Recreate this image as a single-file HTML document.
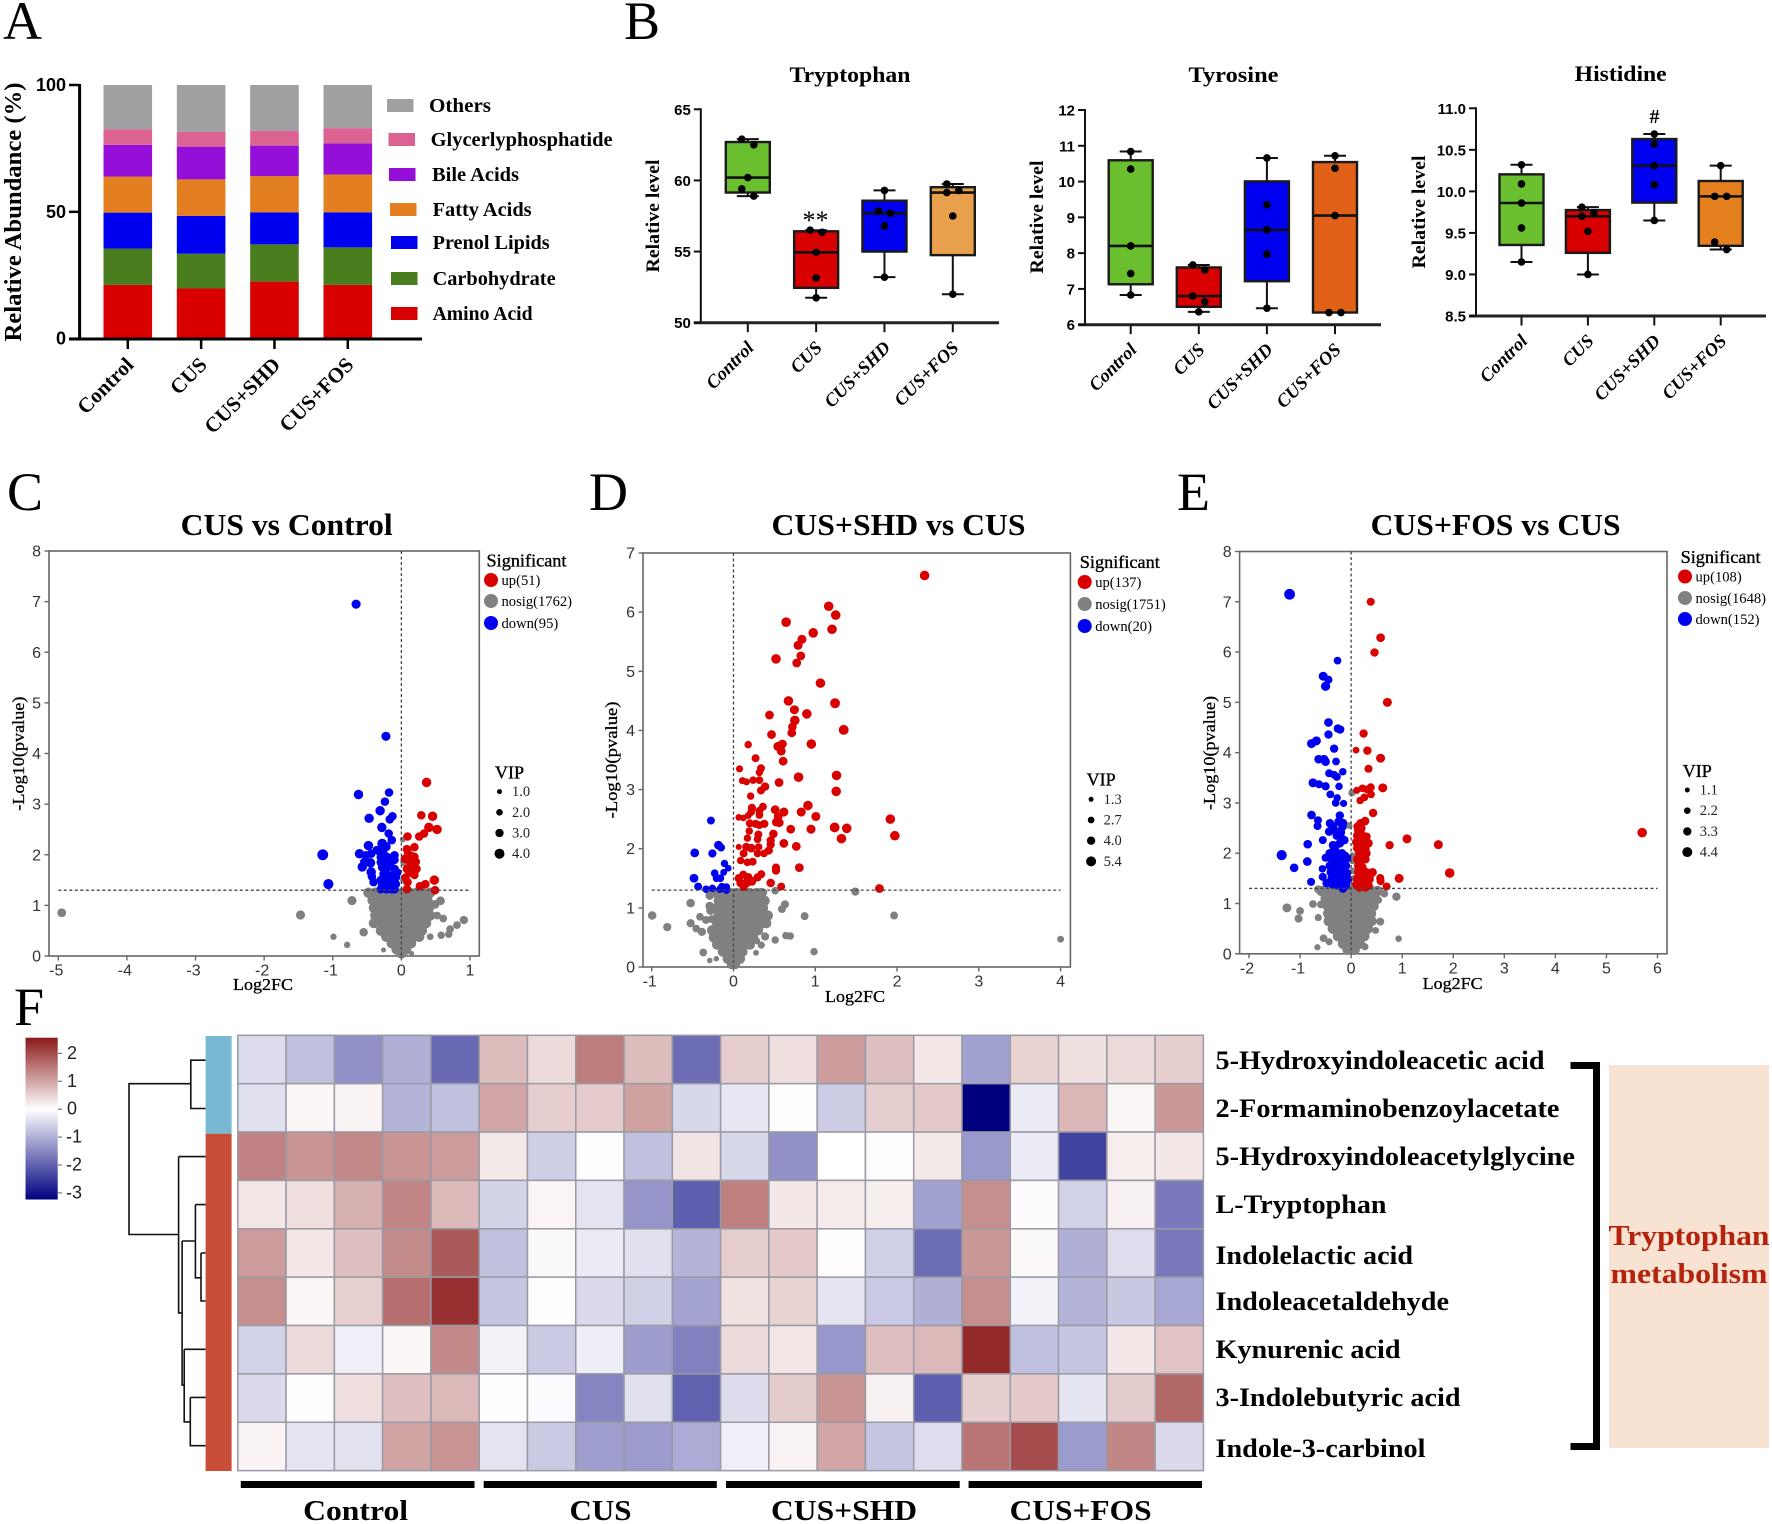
<!DOCTYPE html>
<html lang="en">
<head>
<meta charset="utf-8">
<title>Tryptophan metabolism figure</title>
<style>
html,body{margin:0;padding:0;background:#fff;}
svg{display:block;}
text{font-family:"Liberation Serif",serif;fill:#000;}
.letter{font-size:54px;}
.sans{font-family:"Liberation Sans",sans-serif;}
.bold{font-weight:bold;}
</style>
</head>
<body>
<svg id="figure" xmlns="http://www.w3.org/2000/svg" width="1772" height="1524" viewBox="0 0 1772 1524">
<defs>
<linearGradient id="cbar" x1="0" y1="0" x2="0" y2="1">
<stop offset="0" stop-color="#8b1a1a"/>
<stop offset="0.441" stop-color="#ffffff"/>
<stop offset="1" stop-color="#00007f"/>
</linearGradient>
</defs>
<rect x="0" y="0" width="1772" height="1524" fill="#fff"/>

<text class="letter" x="3" y="39">A</text>
<text class="letter" x="624" y="39">B</text>
<text class="letter" x="7" y="510">C</text>
<text class="letter" x="589" y="510">D</text>
<text class="letter" x="1177" y="510">E</text>
<text class="letter" x="14" y="1025">F</text>

<g id="panelA">
<text class="bold" font-size="24" text-anchor="middle" textLength="259" lengthAdjust="spacingAndGlyphs" transform="translate(21,212) rotate(-90)">Relative Abundance (%)</text>
</g>
<g id="panelB1">
<text class="bold" font-size="22" text-anchor="middle" x="850" y="82" textLength="121" lengthAdjust="spacingAndGlyphs">Tryptophan</text>
<text class="bold" font-size="19" text-anchor="middle" textLength="113" lengthAdjust="spacingAndGlyphs" transform="translate(659,216) rotate(-90)">Relative level</text>
<text font-size="26" text-anchor="middle" x="815.5" y="229">**</text>
</g>
<g id="panelB2">
<text class="bold" font-size="22" text-anchor="middle" x="1233.5" y="82" textLength="90" lengthAdjust="spacingAndGlyphs">Tyrosine</text>
<text class="bold" font-size="19" text-anchor="middle" textLength="113" lengthAdjust="spacingAndGlyphs" transform="translate(1043,217) rotate(-90)">Relative level</text>
</g>
<g id="panelB3">
<text class="bold" font-size="22" text-anchor="middle" x="1620.7" y="81" textLength="92" lengthAdjust="spacingAndGlyphs">Histidine</text>
<text class="bold" font-size="19" text-anchor="middle" textLength="113" lengthAdjust="spacingAndGlyphs" transform="translate(1425,212) rotate(-90)">Relative level</text>
<text class="bold" font-size="20" text-anchor="middle" x="1654.5" y="123">#</text>
</g>

<g id="panelC">
<text class="bold" font-size="31" text-anchor="middle" x="286.7" y="535" textLength="212" lengthAdjust="spacingAndGlyphs">CUS vs Control</text>
<text font-size="17" stroke="#000" stroke-width=".3" text-anchor="middle" x="263" y="990" textLength="60" lengthAdjust="spacingAndGlyphs">Log2FC</text>
<text font-size="17" stroke="#000" stroke-width=".3" text-anchor="middle" textLength="114" lengthAdjust="spacingAndGlyphs" transform="translate(24,753.6) rotate(-90)">-Log10(pvalue)</text>
</g>
<g id="panelD">
<text class="bold" font-size="31" text-anchor="middle" x="898.5" y="535" textLength="254" lengthAdjust="spacingAndGlyphs">CUS+SHD vs CUS</text>
<text font-size="17" stroke="#000" stroke-width=".3" text-anchor="middle" x="855" y="1002" textLength="60" lengthAdjust="spacingAndGlyphs">Log2FC</text>
<text font-size="17" stroke="#000" stroke-width=".3" text-anchor="middle" textLength="117" lengthAdjust="spacingAndGlyphs" transform="translate(617,760) rotate(-90)">-Log10(pvalue)</text>
</g>
<g id="panelE">
<text class="bold" font-size="31" text-anchor="middle" x="1495.6" y="535" textLength="250" lengthAdjust="spacingAndGlyphs">CUS+FOS vs CUS</text>
<text font-size="17" stroke="#000" stroke-width=".3" text-anchor="middle" x="1452.6" y="989" textLength="60" lengthAdjust="spacingAndGlyphs">Log2FC</text>
<text font-size="17" stroke="#000" stroke-width=".3" text-anchor="middle" textLength="114" lengthAdjust="spacingAndGlyphs" transform="translate(1215,753) rotate(-90)">-Log10(pvalue)</text>
</g>

<g id="panelF">
<path fill="none" stroke="#111" stroke-width="1.6" d="M205.6 1060.2H190.8V1108.5H205.6M190.8 1083.7H129V1234.5H178.6M178.6 1156.6H205.6M178.6 1156.6V1312.9H182.1M182.1 1241V1385.1H184.2M182.1 1241H195.4M195.4 1204.6H205.6M195.4 1204.6V1277.8H201M201 1253H205.6M201 1253V1301H205.6M184.2 1349.3H205.6M184.2 1349.3V1421.9H190.3M190.3 1397.4H205.6M190.3 1397.4V1445.7H205.6"/>
<rect x="205.6" y="1036" width="26" height="97.7" fill="#78b8d2"/>
<rect x="205.6" y="1133.7" width="26" height="337.3" fill="#c84e38"/>
<rect x="25.5" y="1037.7" width="32.2" height="161.8" fill="url(#cbar)"/>

<rect x="240.8" y="1481" width="233.7" height="7" fill="#000"/>
<rect x="483.7" y="1481" width="233.1" height="7" fill="#000"/>
<rect x="726" y="1481" width="233.7" height="7" fill="#000"/>
<rect x="968.6" y="1481" width="233.4" height="7" fill="#000"/>
<text class="bold" font-size="29" text-anchor="middle" x="355.6" y="1520" textLength="105" lengthAdjust="spacingAndGlyphs">Control</text>
<text class="bold" font-size="29" text-anchor="middle" x="600.5" y="1520" textLength="62" lengthAdjust="spacingAndGlyphs">CUS</text>
<text class="bold" font-size="29" text-anchor="middle" x="844" y="1520" textLength="146" lengthAdjust="spacingAndGlyphs">CUS+SHD</text>
<text class="bold" font-size="29" text-anchor="middle" x="1080.6" y="1520" textLength="142" lengthAdjust="spacingAndGlyphs">CUS+FOS</text>

<text class="bold" font-size="26" x="1215.5" y="1069" textLength="329" lengthAdjust="spacingAndGlyphs">5-Hydroxyindoleacetic acid</text>
<text class="bold" font-size="26" x="1215.5" y="1117" textLength="344" lengthAdjust="spacingAndGlyphs">2-Formaminobenzoylacetate</text>
<text class="bold" font-size="26" x="1215.5" y="1165" textLength="359.5" lengthAdjust="spacingAndGlyphs">5-Hydroxyindoleacetylglycine</text>
<text class="bold" font-size="26" x="1215.5" y="1213" textLength="171" lengthAdjust="spacingAndGlyphs">L-Tryptophan</text>
<text class="bold" font-size="26" x="1215.5" y="1264" textLength="197.5" lengthAdjust="spacingAndGlyphs">Indolelactic acid</text>
<text class="bold" font-size="26" x="1215.5" y="1310" textLength="233.5" lengthAdjust="spacingAndGlyphs">Indoleacetaldehyde</text>
<text class="bold" font-size="26" x="1215.5" y="1358" textLength="185" lengthAdjust="spacingAndGlyphs">Kynurenic acid</text>
<text class="bold" font-size="26" x="1215.5" y="1406" textLength="245" lengthAdjust="spacingAndGlyphs">3-Indolebutyric acid</text>
<text class="bold" font-size="26" x="1215.5" y="1457" textLength="210" lengthAdjust="spacingAndGlyphs">Indole-3-carbinol</text>

<path fill="none" stroke="#000" stroke-width="7" d="M1570.5 1065.5H1596.5V1446.5H1570.5"/>
<rect x="1609" y="1065" width="160" height="383" fill="#f8e3d2"/>
<text class="bold" font-size="29" text-anchor="middle" x="1689" y="1245" fill="#b5230f" style="fill:#b5230f" textLength="161" lengthAdjust="spacingAndGlyphs">Tryptophan</text>
<text class="bold" font-size="29" text-anchor="middle" x="1689" y="1283" fill="#b5230f" style="fill:#b5230f" textLength="157" lengthAdjust="spacingAndGlyphs">metabolism</text>
</g>
</svg>

<script>
/* ---------- Panel A data (percent of total) ---------- */
const barCategories = ['Control', 'CUS', 'CUS+SHD', 'CUS+FOS'];
const aminoAcid = [21.2, 19.8, 22.5, 21.2];
const carbohydrate = [14.3, 13.7, 14.7, 14.8];
const prenolLipids = [14.2, 14.9, 12.6, 13.8];
const fattyAcids = [14.2, 14.4, 14.3, 14.9];
const bileAcids = [12.5, 12.9, 12.0, 12.3];
const glycerlyphosphatide = [6.2, 5.8, 5.8, 6.0];
const others = [17.4, 18.5, 18.1, 17.0];
const barTicks = [0, 50, 100];

/* ---------- Panel B data: five replicate values per group ---------- */
const boxCategories = ['Control', 'CUS', 'CUS+SHD', 'CUS+FOS'];
const trpControl = [62.9, 62.5, 60.2, 59.4, 58.9];
const trpCus = [56.5, 56.35, 54.95, 53.15, 51.75];
const trpShd = [59.3, 57.85, 57.7, 56.8, 53.2];
const trpFos = [59.75, 59.3, 59.15, 57.5, 52.0];
const trpTicks = [50, 55, 60, 65];
const tyrControl = [10.84, 10.35, 8.2, 7.43, 6.83];
const tyrCus = [7.67, 7.53, 6.8, 6.64, 6.36];
const tyrShd = [10.66, 9.35, 8.65, 7.97, 6.46];
const tyrFos = [10.72, 10.37, 9.05, 6.34, 6.34];
const tyrTicks = [6, 7, 8, 9, 10, 11, 12];
const hisControl = [10.32, 10.09, 9.86, 9.56, 9.15];
const hisCus = [9.81, 9.74, 9.7, 9.52, 9.0];
const hisShd = [10.69, 10.57, 10.31, 10.08, 9.65];
const hisFos = [10.31, 9.94, 9.94, 9.39, 9.3];
const hisTicks = ['8.5', '9.0', '9.5', '10.0', '10.5', '11.0'];

/* ---------- Volcano data: [log2FC, -log10 p, optional VIP] ---------- */
const cXTicks = [-5, -4, -3, -2, -1, 0, 1];
const cYTicks = [0, 1, 2, 3, 4, 5, 6, 7, 8];
const cVipLegend = ['1.0', '2.0', '3.0', '4.0'];
const cCounts = ['up(51)', 'nosig(1762)', 'down(95)'];
const cUp = [[.367,3.43,3.2],[.29,2.78],[.455,2.76,3.2],[.40,2.54,3.2],[.52,2.50,3.2],[.33,2.42],[.26,2.36],[.09,2.36],[.19,2.15],[.08,2.11],[.10,2.02],[.19,1.96],[.05,1.92],[.21,1.86],[.13,1.84],[.08,1.72],[.22,1.72],[.16,1.69],[.19,1.6],[.09,1.46],[.35,1.42],[.27,1.38],[.48,1.5,3.2],[.49,1.30],[.08,1.32],[.12,1.9],[.17,1.8],[.12,1.65],[.14,1.98],[.06,1.55]];
const cDown = [[-.66,6.95,3],[-.225,4.34,3],[-.625,3.19,3.2],[-.18,3.23],[-.24,3.05],[-.31,2.87,3.2],[-.47,2.72,3.2],[-.13,2.76],[-.17,2.70],[-.285,2.54,3.2],[-.185,2.42],[-.14,2.29],[-.28,2.22,3.4],[-.48,2.18,3.2],[-.225,2.16,3.2],[-1.146,2.0,4],[-.61,2.02,3.2],[-.44,2.02],[-.10,1.99],[-.31,2.06,3.2],[-.36,2.09],[-.515,1.99],[-.45,1.84,3.2],[-.54,1.86],[-.57,1.76,3.2],[-.44,1.66,3.2],[-.43,1.57],[-.405,1.46],[-1.064,1.42,3.6],[-.3,1.95],[-.25,2.0],[-.2,1.95],[-.3,1.85],[-.24,1.85],[-.15,1.88],[-.1,1.9],[-.28,1.75],[-.22,1.72],[-.16,1.78],[-.1,1.72],[-.06,1.65],[-.26,1.62],[-.2,1.6],[-.13,1.6],[-.08,1.55],[-.3,1.5],[-.24,1.5],[-.18,1.5],[-.12,1.48],[-.08,1.42],[-.28,1.4],[-.2,1.4],[-.14,1.38],[-.3,1.32],[-.22,1.32],[-.15,1.32],[-.1,1.32]];
const cGray = [[-4.95,.855,2.8],[-1.47,.81,3],[-.72,1.095,3],[-.99,.38,1.4],[-.79,.22,1.4],[.91,.71,2.6],[.81,.61,2.2],[.71,.53,2.2],[.69,.43,2],[.58,.41,2],[.42,.38,1.6],[.61,.74,2.2],[.52,.8,2.2],[.57,1.09,2.8],[.49,1.02,2.8],[-.55,.47,2.6],[.15,.05,.6],[-.26,.12,.6],[.02,2.3,1],[.04,1.85,2.2],[.03,1.5,1.6],
[-.48,1.25],[-.38,1.25],[-.28,1.25],[-.18,1.25],[-.08,1.25],[.02,1.25],[.12,1.25],[.22,1.25],[.32,1.25],[.42,1.25],
[-.42,1.1],[-.32,1.1],[-.22,1.1],[-.12,1.1],[-.02,1.1],[.08,1.1],[.18,1.1],[.28,1.1],[.38,1.1],
[-.4,.95],[-.3,.95],[-.2,.95],[-.1,.95],[0,.95],[.1,.95],[.2,.95],[.3,.95],[.4,.95],
[-.38,.8],[-.28,.8],[-.18,.8],[-.08,.8],[.02,.8],[.12,.8],[.22,.8],[.32,.8],[.42,.8],
[-.4,.65],[-.3,.65],[-.2,.65],[-.1,.65],[0,.65],[.1,.65],[.2,.65],[.3,.65],[.36,.65],
[-.3,.5],[-.2,.5],[-.1,.5],[0,.5],[.1,.5],[.2,.5],[.3,.5],
[-.22,.38],[-.14,.38],[-.06,.38],[.02,.38],[.1,.38],[.18,.38],[.26,.38],
[-.14,.25],[-.07,.25],[0,.25],[.07,.25],[.14,.25],
[-.07,.13],[0,.13],[.07,.13],[0,.05]];

const dXTicks = [-1, 0, 1, 2, 3, 4];
const dYTicks = [0, 1, 2, 3, 4, 5, 6, 7];
const dVipLegend = ['1.3', '2.7', '4.0', '5.4'];
const dCounts = ['up(137)', 'nosig(1751)', 'down(20)'];
const dUp = [[2.337,6.62,4],[1.164,6.10,4],[1.25,5.95,4],[1.205,5.71,4],[.644,5.83,4],[.975,5.65,4],[.837,5.54,3.6],[.79,5.44,3.6],[.823,5.26,3.4],[.52,5.21,4],[.773,5.14,3.4],[1.063,4.80,4],[.672,4.50,4],[1.242,4.46,4.2],[.745,4.35,3.6],[.897,4.28,4],[.44,4.26,3.4],[.75,4.17,4],[.72,4.06,3.2],[1.348,4.01,4.2],[.713,3.96,3.4],[.465,3.93,3.4],[.598,3.77,3.4],[.952,3.77,4],[.18,3.76,2.4],[.543,3.73,3.6],[.584,3.65,3.4],[.27,3.53,2.8],[.607,3.48,3.4],[.074,3.35,2.2],[.336,3.36,2.8],[.317,3.29,2.4],[1.26,3.24,4],[.796,3.21,4],[.557,3.12,3.4],[.11,3.15,2.2],[.16,3.13,2],[.24,3.16,2.4],[.317,3.16,2.6],[.386,3.05,3.2],[1.256,2.97,4],[.336,2.985,2.8],[.21,2.89,2.4],[.91,2.73,4],[.225,2.69,3],[.36,2.71,2.8],[.51,2.66,3.4],[.616,2.62,3.6],[.828,2.62,3.6],[.317,2.64,2.8],[.216,2.62,2.6],[.317,2.57,2.6],[1.007,2.545,3.6],[.064,2.53,1.8],[.12,2.52,1.8],[.18,2.56,2],[.547,2.545,3.4],[.2,2.43,2.8],[.27,2.42,2.8],[.377,2.42,3],[.317,2.40,2.8],[.524,2.45,3.4],[.56,2.44,3.4],[1.918,2.50,4],[1.237,2.36,4.2],[1.385,2.345,4],[.948,2.33,3.6],[.70,2.33,3.4],[.193,2.30,2.4],[.304,2.24,2.8],[.488,2.25,3.2],[1.973,2.22,4],[1.32,2.17,4],[.17,2.18,2.4],[.294,2.16,2.6],[.455,2.14,3],[.455,2.07,3],[.616,2.09,3.4],[.768,2.04,3.4],[.064,2.03,1.4],[.156,2.03,3],[.216,2.01,3.4],[.308,2.03,2.4],[.432,1.97,3],[.124,1.92,2.8],[.294,1.92,2.6],[.373,1.92,2.6],[.087,1.80,2.4],[.17,1.77,2.6],[.235,1.78,2.8],[.52,1.68,3],[.52,1.63,3],[.805,1.68,3.4],[.34,1.57,2.8],[.064,1.50,3],[.12,1.56,3],[.18,1.515,3.4],[.294,1.515,3],[.087,1.42,3.2],[.156,1.42,3.6],[.225,1.447,3.4],[.455,1.42,3.2],[.584,1.36,2.8],[.124,1.355,3],[1.785,1.327,3.4]];
const dDown = [[-.276,2.476,2.8],[-.184,2.06,3.4],[-.152,2.02,2.8],[-.474,1.93,3.4],[-.258,1.92,3],[-.11,1.75,2.4],[-.064,1.67,1.8],[-.12,1.60,2],[-.23,1.585,2.6],[-.483,1.50,3.4],[-.207,1.50,2.6],[-.16,1.50,2.6],[-.432,1.36,2.8],[-.143,1.36,2.4],[-.087,1.35,2.6],[-.336,1.315,2.4],[-.258,1.33,2.4],[-.166,1.315,2.4],[-.087,1.30,2.4]];
const dGray = [[1.49,1.275,3],[4.0,.47,2],[1.964,.87,2.8],[.87,.86,2.8],[-.994,.87,3.2],[-.81,.675,3],[-.524,1.08,3.2],[-.524,.74,3],[-.41,.85,2.6],[-.455,.65,2.6],[-.386,.595,3],[-.37,.245,2.6],[-.29,1.21,3.4],[-.29,1.03,3.4],[-.28,.955,3.4],[-.336,.795,2.8],[-.267,.81,2.8],[.63,1.06,2.8],[.593,.98,2.8],[.51,1.29,2.6],[.363,1.26,3],[.985,.26,2.4],[.64,.53,2.4],[.695,.525,2.4],[.51,.457,2.4],[.386,.515,3],[.34,.37,2.2],[.276,.24,1.2],[.285,.44,2],[-.29,.11,1],[-.21,.14,1],
[-.2,1.25],[-.12,1.25],[-.04,1.25],[.04,1.25],[.12,1.25],[.2,1.25],[.28,1.25],[.34,1.25],
[-.18,1.12],[-.1,1.12],[-.02,1.12],[.06,1.12],[.14,1.12],[.22,1.12],[.3,1.12],[.38,1.12],
[-.2,1.0],[-.12,1.0],[-.04,1.0],[.04,1.0],[.12,1.0],[.2,1.0],[.28,1.0],[.36,1.0],
[-.18,.87],[-.1,.87],[-.02,.87],[.06,.87],[.14,.87],[.22,.87],[.3,.87],[.38,.87],[.42,.87],
[-.2,.74],[-.12,.74],[-.04,.74],[.04,.74],[.12,.74],[.2,.74],[.28,.74],[.36,.74],[.4,.74],
[-.26,.62],[-.18,.62],[-.1,.62],[-.02,.62],[.06,.62],[.14,.62],[.22,.62],[.3,.62],
[-.24,.5],[-.16,.5],[-.08,.5],[0,.5],[.08,.5],[.16,.5],[.24,.5],
[-.2,.38],[-.12,.38],[-.04,.38],[.04,.38],[.12,.38],[.2,.38],
[-.13,.26],[-.05,.26],[.03,.26],[.11,.26],
[-.07,.14],[.01,.14],[.08,.14],[-.02,.05],[.02,.05]];

const eXTicks = [-2, -1, 0, 1, 2, 3, 4, 5, 6];
const eYTicks = [0, 1, 2, 3, 4, 5, 6, 7, 8];
const eVipLegend = ['1.1', '2.2', '3.3', '4.4'];
const eCounts = ['up(108)', 'nosig(1648)', 'down(152)'];
const eDown = [[-1.205,7.15,4.4],[-.266,5.83,2.4],[-.547,5.52,3.2],[-.444,5.45,2.6],[-.50,5.32,3.4],[-.444,4.6,3],[-.26,4.48,2.8],[-.214,4.46,2.8],[-.444,4.36,2.8],[-.68,4.235,3.2],[-.776,4.18,3.2],[-.333,4.08,2.8],[-.636,3.87,3],[-.532,3.87,3],[-.50,3.82,3],[-.296,3.825,2.4],[-.163,3.62,2.2],[-.43,3.59,2.6],[-.333,3.56,2.4],[-.28,3.52,2.6],[-.747,3.40,3.2],[-.628,3.37,2.6],[-.50,3.33,2.8],[-.237,3.33,2.2],[-.407,3.17,2.4],[-.274,3.10,2.2],[-.303,3.0,2.4],[-.148,2.99,2],[-.776,2.76,3],[-.222,2.75,2.8],[-.65,2.655,2.6],[-.658,2.54,2.6],[-.414,2.595],[-.244,2.63],[-.355,2.53],[-.17,2.53],[-.43,2.43],[-.28,2.43],[-.555,2.26,2.6],[-.207,2.33],[-.85,2.18,3],[-.133,2.26],[-.355,2.16],[-1.36,1.963,4],[-1.116,1.71,3],[-.858,1.835,3],[-.50,1.91,2.6],[-.562,1.69,2.2],[-.555,1.53,2.6],[-.784,1.43,2.6],[-.48,1.405],
[-.42,2.0],[-.34,2.05],[-.26,2.0],[-.18,2.0],[-.12,1.95],[-.4,1.9],[-.32,1.9],[-.24,1.88],[-.16,1.85],[-.08,1.9],[-.42,1.75],[-.34,1.78],[-.26,1.75],[-.18,1.72],[-.1,1.75],[-.4,1.62],[-.32,1.62],[-.24,1.6],[-.16,1.6],[-.08,1.6],[-.38,1.5],[-.3,1.48],[-.22,1.48],[-.14,1.48],[-.06,1.48],[-.36,1.38],[-.26,1.36],[-.18,1.36],[-.1,1.36],[-.16,1.3],[-.3,2.15],[-.22,2.2],[-.28,2.35],[-.2,2.42],[-.16,2.6]];
const eUp = [[.384,7.0,2.6],[.577,6.285,3],[.458,5.99,2.8],[.71,5.0,3.2],[.244,4.38,2.8],[.096,4.05,1.8],[.318,4.04,2.8],[.577,3.89,3.2],[.34,3.68,2.6],[.62,3.30,3.2],[.384,3.31,2.6],[.222,3.29,2.4],[.11,3.25,2],[.31,3.27,2.4],[.39,3.17,2.4],[.26,3.11,2.4],[.177,3.05,2.2],[.43,2.80,2.8],[.274,2.64],[.185,2.595],[.126,2.53],[5.70,2.41,3.6],[1.094,2.286,3.2],[1.708,2.17,3.2],[.754,2.16,2.8],[1.93,1.607,3.6],[.94,1.5,3.2],[.57,1.506,2.6],[.577,1.445,2.6],[.695,1.338,2.6],[.42,1.62],
[.14,2.45],[.2,2.5],[.12,2.35],[.2,2.38],[.3,2.33],[.1,2.22],[.18,2.25],[.26,2.25],[.34,2.2],[.12,2.1],[.2,2.12],[.28,2.1],[.16,2.0],[.24,1.98],[.3,2.0],[.12,1.88],[.2,1.85],[.28,1.88],[.14,1.75],[.22,1.72],[.14,1.62],[.22,1.62],[.3,1.62],[.38,1.58],[.12,1.5],[.2,1.5],[.28,1.5],[.36,1.48],[.1,1.38],[.18,1.38],[.26,1.38],[.34,1.36],[.16,1.32],[.28,1.32]];
const eGray = [[-1.257,.914,3.2],[-1.0,.854,2.4],[-1.03,.70,2.6],[-.747,.99,2.4],[-.643,.72,2],[-.59,.98,2.4],[.887,1.136,2.8],[.65,1.197,2.4],[.57,.64,2.6],[.53,1.07,2.4],[.48,.464,1.8],[.93,.30,1.6],[-.54,.31,2.4],[-.43,.24,2],[-.66,.13,1.4],[.27,.14,2],[-.65,1.284,2.4],[.015,3.2,2],[-.04,2.55,1.8],[.03,1.95,1.8],[.03,1.85,1.8],[.03,1.65,1.8],[.06,1.5,1.8],[.05,1.35,1.8],
[-.58,1.25],[-.44,1.25],[-.3,1.25],[-.16,1.25],[-.02,1.25],[.12,1.25],[.26,1.25],[.4,1.25],[.52,1.25],
[-.5,1.1],[-.36,1.1],[-.22,1.1],[-.08,1.1],[.06,1.1],[.2,1.1],[.34,1.1],[.46,1.1],
[-.46,.95],[-.32,.95],[-.18,.95],[-.04,.95],[.1,.95],[.24,.95],[.38,.95],[.44,.95],
[-.45,.8],[-.31,.8],[-.17,.8],[-.03,.8],[.11,.8],[.25,.8],[.39,.8],
[-.44,.65],[-.3,.65],[-.16,.65],[-.02,.65],[.12,.65],[.26,.65],[.4,.65],
[-.36,.5],[-.22,.5],[-.08,.5],[.06,.5],[.2,.5],[.33,.5],
[-.26,.35],[-.12,.35],[.02,.35],[.16,.35],[.26,.35],
[-.16,.2],[-.04,.2],[.08,.2],[.17,.2],
[-.07,.08],[.03,.08],[.07,.08]];

/* ---------- Panel F data: z-scores, one array per metabolite ---------- */
const hiaa5 = [-.45,-.8,-1.4,-1.0,-1.9,.75,.4,1.45,.75,-1.85,.55,.37,1.1,.72,.27,-1.2,.5,.35,.42,.55];
const formaminobenzoylacetate = [-.4,.1,.13,-.95,-.8,1.0,.55,.58,1.05,-.5,-.3,-.03,-.65,.55,.6,-3.24,-.25,.8,.1,1.15];
const hydroxyindoleacetylglycine = [1.4,1.2,1.32,1.18,1.12,.25,-.62,-.02,-.8,.3,-.5,-1.4,0,-.02,.25,-1.3,-.25,-2.4,.2,.27];
const lTryptophan = [.28,.37,.88,1.35,.78,-.55,.12,-.35,-1.35,-2.05,1.42,.27,.22,.2,-1.2,1.25,.05,-.58,.17,-1.7];
const indolelacticAcid = [1.12,.27,.7,1.3,1.85,-.8,.08,-.25,-.4,-.95,.55,.6,.03,-.6,-1.85,1.15,.08,-1.0,-.42,-1.72];
const indoleacetaldehyde = [1.25,.1,.52,1.62,2.3,-.72,-.02,-.47,-.6,-1.17,.32,.5,-.33,-.68,-1.0,1.25,-.16,-.95,-.7,-1.12];
const kynurenicAcid = [-.58,.42,-.2,.1,1.32,-.18,-.67,-.22,-1.25,-1.6,.43,.28,-1.32,.72,.78,2.4,-.8,-.73,.27,.67];
const indolebutyricAcid = [-.47,-.02,.37,.7,.78,-.03,-.05,-1.55,-.4,-2.0,-.45,.57,1.2,.17,-2.05,.55,.6,-.32,.57,1.7];
const indoleCarbinol = [.13,-.33,-.38,1.02,1.2,-.35,-.67,-1.22,-1.27,-1.07,-.2,.15,1.0,-.72,-.43,1.55,2.0,-1.27,1.35,-.47];
const colorbarTicks = [2, 1, 0, -1, -2, -3];

/* ---------- helpers ---------- */
const NS = 'http://www.w3.org/2000/svg';
function mk(parent, tagName, attrs, txt) {
  const el = document.createElementNS(NS, tagName);
  for (const k in attrs) el.setAttribute(k, attrs[k]);
  if (txt !== undefined) el.textContent = txt;
  parent.appendChild(el);
  return el;
}
function linear(d0, d1, r0, r1) {
  return function (v) { return r0 + (v - d0) * (r1 - r0) / (d1 - d0); };
}

/* ---------- Panel A ---------- */
(function () {
  const g = document.getElementById('panelA');
  const stack = [aminoAcid, carbohydrate, prenolLipids, fattyAcids, bileAcids, glycerlyphosphatide, others];
  const stackColors = ['#d90000', '#4a7d1e', '#0000f0', '#e37f20', '#9410d8', '#dc6292', '#a0a0a2'];
  const stackNames = ['Amino Acid', 'Carbohydrate', 'Prenol Lipids', 'Fatty Acids', 'Bile Acids', 'Glycerlyphosphatide', 'Others'];
  const legendBoxX = [391, 391, 391, 390, 389, 388.5, 387];
  const legendBoxY = [307, 272, 236, 203, 168, 133, 99];
  const legendTextX = [432.6, 432.6, 432.6, 432.6, 432, 430.6, 429];
  const legendWidths = [100, 123, 117, 99, 87, 182, 62];
  const y = linear(0, 100, 338.7, 85);
  const xc = linear(0, 3, 127.8, 347.8);
  barCategories.forEach(function (cat, i) {
    let acc = 0;
    stack.forEach(function (series, s) {
      const y0 = y(acc), y1 = y(acc + series[i]);
      const r = mk(g, 'rect', { x: xc(i) - 24.3, y: y1, width: 48.6, height: y0 - y1, fill: stackColors[s] });
      
      
      acc += series[i];
    });
    const t = mk(g, 'line', { x1: xc(i), x2: xc(i), y1: 339, y2: 349, stroke: '#000', 'stroke-width': 2.5 });
    
    
    const lab = mk(g, 'text', { 'class': 'bold', 'font-size': 21, 'text-anchor': 'end', transform: 'translate(' + (xc(i) + 7) + ',366) rotate(-45)' }, cat);
    
    
  });
  const ya = mk(g, 'line', { x1: 79.6, x2: 79.6, y1: 84, y2: 340, stroke: '#000', 'stroke-width': 3 });
  
  
  const xa = mk(g, 'line', { x1: 69, x2: 422, y1: 339, y2: 339, stroke: '#000', 'stroke-width': 3 });
  
  
  barTicks.forEach(function (v) {
    const t = mk(g, 'line', { x1: 69, x2: 79.6, y1: y(v), y2: y(v), stroke: '#000', 'stroke-width': 2.5 });
    
    
    const l = mk(g, 'text', { 'class': 'sans bold', 'font-size': 18, 'text-anchor': 'end', x: 66, y: y(v) + 6 }, v);
    
    
  });
  stackNames.forEach(function (n, s) {
    const sw = mk(g, 'rect', { x: legendBoxX[s], y: legendBoxY[s], width: 26.5, height: 13, fill: stackColors[s] });
    
    
    const tx = mk(g, 'text', { 'class': 'bold', 'font-size': 20, x: legendTextX[s], y: legendBoxY[s] + 13, textLength: legendWidths[s], lengthAdjust: 'spacingAndGlyphs' }, n);
    
    
  });
})();

/* ---------- Panel B ---------- */
function drawBoxPlot(id, groups, fills, ticks, y0, y1, yPx0, yPx1, axisX, axisEnd, centerFirst, centerLast) {
  const g = document.getElementById(id);
  const y = linear(y0, y1, yPx0, yPx1);
  const xc = linear(0, 3, centerFirst, centerLast);
  const closeGap = (y1 - y0) * 0.042;
  groups.forEach(function (values, i) {
    const asc = values.slice().sort(function (a, b) { return a - b; });
    const q1 = (asc[0] + asc[1]) / 2, med = asc[2], q3 = (asc[3] + asc[4]) / 2;
    const cx = xc(i);
    const w = mk(g, 'path', { d: 'M' + cx + ' ' + y(asc[4]) + 'V' + y(q3) + 'M' + cx + ' ' + y(q1) + 'V' + y(asc[0]) + 'M' + (cx - 11) + ' ' + y(asc[4]) + 'h22M' + (cx - 11) + ' ' + y(asc[0]) + 'h22', stroke: '#111', 'stroke-width': 2, fill: 'none' });
    
    
    const b = mk(g, 'rect', { x: cx - 22, y: y(q3), width: 44, height: y(q1) - y(q3), fill: fills[i], stroke: '#1a1a1a', 'stroke-width': 2.4 });
    
    
    const m = mk(g, 'line', { x1: cx - 22, x2: cx + 22, y1: y(med), y2: y(med), stroke: '#111', 'stroke-width': 2.6 });
    
    
    const desc = values.slice().sort(function (a, b) { return b - a; });
    let side = 0;
    desc.forEach(function (v, k) {
      const nearPrev = k > 0 && desc[k - 1] - v < closeGap;
      const nearNext = k < desc.length - 1 && v - desc[k + 1] < closeGap;
      if (!nearPrev) side = -1; else side = -side;
      const off = (nearPrev || nearNext) ? side * 6 : 0;
      const p = mk(g, 'circle', { cx: cx + off, cy: y(v), r: 3.8, fill: '#000' });
      
      
    });
    const t = mk(g, 'line', { x1: cx, x2: cx, y1: yPx0, y2: yPx0 + 9.5, stroke: '#111', 'stroke-width': 2 });
    
    
    const l = mk(g, 'text', { 'class': 'bold', 'font-style': 'italic', 'font-size': 18.5, 'text-anchor': 'end', transform: 'translate(' + (cx + 7) + ',' + (yPx0 + 26) + ') rotate(-45)' }, boxCategories[i]);
    
    
  });
  const ya = mk(g, 'line', { x1: axisX, x2: axisX, y1: y(y1) - 1, y2: yPx0, stroke: '#111', 'stroke-width': 2 });
  
  
  const xa = mk(g, 'line', { x1: axisX - 7, x2: axisEnd, y1: yPx0, y2: yPx0, stroke: '#222', 'stroke-width': 3 });
  
  
  ticks.forEach(function (v) {
    const t = mk(g, 'line', { x1: axisX - 7, x2: axisX, y1: y(+v), y2: y(+v), stroke: '#111', 'stroke-width': 2 });
    
    
    const l = mk(g, 'text', { 'class': 'sans bold', 'font-size': 15, 'text-anchor': 'end', x: axisX - 10, y: y(+v) + 5.5 }, v);
    
    
  });
}
drawBoxPlot('panelB1', [trpControl, trpCus, trpShd, trpFos], ['#6abf2e', '#d80000', '#0000f0', '#e8a04c'], trpTicks, 50, 65, 322.7, 109.3, 700.8, 999, 747.8, 952.8);
drawBoxPlot('panelB2', [tyrControl, tyrCus, tyrShd, tyrFos], ['#6abf2e', '#d80000', '#0000f0', '#e06018'], tyrTicks, 6, 12, 324.7, 110, 1085, 1381, 1130.7, 1335);
drawBoxPlot('panelB3', [hisControl, hisCus, hisShd, hisFos], ['#6abf2e', '#d80000', '#0000f0', '#e5801f'], hisTicks, 8.5, 11, 316, 108.3, 1476, 1766, 1521.5, 1720.7);

/* ---------- Panels C, D, E ---------- */
function drawVolcano(o) {
  const g = document.getElementById(o.id);
  const x = linear(o.xd[0], o.xd[1], o.xr[0], o.xr[1]);
  const y = linear(o.yd[0], o.yd[1], o.bottom, o.top);
  const r = linear(+o.vip[0], +o.vip[3], 2.9, 5.4);
  const legendR = linear(+o.vip[0], +o.vip[3], 2.5, 5);
  const dflt = +o.vip[0] + (+o.vip[3] - +o.vip[0]) * 0.55;
  const box = mk(g, 'rect', { x: o.left, y: o.top, width: o.right - o.left, height: o.bottom - o.top, fill: 'none', stroke: '#666', 'stroke-width': 1.6 });
  
  
  function dots(list, color, name, scale, fallbackRadius) {
    list.forEach(function (p) {
      const rad = p.length > 2 ? r(p[2] * scale) : fallbackRadius;
      const c = mk(g, 'circle', { cx: x(p[0]), cy: y(p[1]), r: rad, fill: color });
      
      
    });
  }
  dots(o.gray, '#808080', 'point-nosig', o.vipScale, 5.2);
  dots(o.up, '#d90000', 'point-up', o.vipScale, r(dflt));
  dots(o.down, '#0000f0', 'point-down', o.vipScale, r(dflt));
  const dv = mk(g, 'line', { x1: x(0), x2: x(0), y1: o.top, y2: o.bottom, stroke: '#444', 'stroke-width': 1.3, 'stroke-dasharray': '3 2.5' });
  
  
  const dh = mk(g, 'line', { x1: x(o.xd[0]), x2: x(o.xd[1]), y1: y(1.3), y2: y(1.3), stroke: '#444', 'stroke-width': 1.3, 'stroke-dasharray': '3 2.5' });
  
  
  o.xTicks.forEach(function (v) {
    const t = mk(g, 'line', { x1: x(v), x2: x(v), y1: o.bottom, y2: o.bottom + 4.5, stroke: '#666', 'stroke-width': 1.4 });
    
    
    const l = mk(g, 'text', { 'class': 'sans', 'font-size': 16, 'text-anchor': 'middle', x: x(v) - (v < 0 ? 2 : 0), y: o.bottom + 19.5, style: 'fill:#333' }, v);
    
    
  });
  o.yTicks.forEach(function (v) {
    const t = mk(g, 'line', { x1: o.left - 4.5, x2: o.left, y1: y(v), y2: y(v), stroke: '#666', 'stroke-width': 1.4 });
    
    
    const l = mk(g, 'text', { 'class': 'sans', 'font-size': 16, 'text-anchor': 'end', x: o.left - 8, y: y(v) + 5.5, style: 'fill:#333' }, v);
    
    
  });
  const st = mk(g, 'text', { 'font-size': 18, stroke: '#000', 'stroke-width': .35, x: o.sigX, y: o.sigY + 6, textLength: 80, lengthAdjust: 'spacingAndGlyphs' }, 'Significant');
  
  
  const legendColors = ['#d90000', '#808080', '#0000f0'];
  o.counts.forEach(function (txt, i) {
    const c = mk(g, 'circle', { cx: o.dotX, cy: o.legY[i], r: 7, fill: legendColors[i] });
    
    
    const l = mk(g, 'text', { 'font-size': 14.6, x: o.dotX + 10.5, y: o.legY[i] + 5 }, txt);
    
    
  });
  const vt = mk(g, 'text', { 'font-size': 18, stroke: '#000', 'stroke-width': .35, x: o.vipX, y: o.vipY + 6 }, 'VIP');
  
  
  o.vip.forEach(function (txt, i) {
    const cy = o.vipY + o.vipGap + i * 20.7;
    const c = mk(g, 'circle', { cx: o.vipX + 4.5, cy: cy, r: legendR(+txt), fill: '#000' });
    
    
    const l = mk(g, 'text', { 'font-size': 14.5, x: o.vipX + 17, y: cy + 4.5, style: 'fill:#222' }, txt);
    
    
  });
}
drawVolcano({ id: 'panelC', up: cUp, down: cDown, gray: cGray, xTicks: cXTicks, yTicks: cYTicks, vip: cVipLegend, counts: cCounts, vipScale: 1, xd: [-5, 1], xr: [58.3, 470], yd: [0, 8], left: 49, right: 479.3, top: 551, bottom: 956, sigX: 486.5, sigY: 560.6, dotX: 491, legY: [580, 601, 623], vipX: 495, vipY: 772.6, vipGap: 19 });
drawVolcano({ id: 'panelD', up: dUp, down: dDown, gray: dGray, xTicks: dXTicks, yTicks: dYTicks, vip: dVipLegend, counts: dCounts, vipScale: 1.1, xd: [-1, 4], xr: [651.7, 1060.6], yd: [0, 7], left: 643, right: 1070.4, top: 553, bottom: 967, sigX: 1079.8, sigY: 562, dotX: 1084.7, legY: [582, 604, 626], vipX: 1086.6, vipY: 779.3, vipGap: 20 });
drawVolcano({ id: 'panelE', up: eUp, down: eDown, gray: eGray, xTicks: eXTicks, yTicks: eYTicks, vip: eVipLegend, counts: eCounts, vipScale: 1, xd: [-2, 6], xr: [1249, 1657.5], yd: [0, 8], left: 1239.6, right: 1667, top: 551.5, bottom: 953.8, sigX: 1680.6, sigY: 557, dotX: 1685, legY: [576.5, 598, 619], vipX: 1682.8, vipY: 771, vipGap: 19 });

/* ---------- Panel F ---------- */
(function () {
  const g = document.getElementById('panelF');
  const rows = [hiaa5, formaminobenzoylacetate, hydroxyindoleacetylglycine, lTryptophan, indolelacticAcid, indoleacetaldehyde, kynurenicAcid, indolebutyricAcid, indoleCarbinol];
  const left = 237.8, top = 1035.3, cw = 48.28, ch = 48.37;
  function mix(t, c) {
    return 'rgb(' + [0, 1, 2].map(function (k) { return Math.round(255 + (c[k] - 255) * t); }).join(',') + ')';
  }
  function heatColor(v) {
    return v >= 0 ? mix(Math.min(v / 2.56, 1), [139, 26, 26]) : mix(Math.min(-v / 3.24, 1), [0, 0, 127]);
  }
  rows.forEach(function (row, i) {
    row.forEach(function (v, j) {
      const c = mk(g, 'rect', { x: left + j * cw, y: top + i * ch, width: cw, height: ch, fill: heatColor(v), stroke: '#9a9aa4', 'stroke-width': 1.5 });
      
      
    });
  });
  const cy = linear(0, 1, 1109.2, 1081.3);
  colorbarTicks.forEach(function (v) {
    const t = mk(g, 'line', { x1: 58, x2: 62, y1: cy(v), y2: cy(v), stroke: '#777', 'stroke-width': 1.2 });
    
    
    const l = mk(g, 'text', { 'class': 'sans', 'font-size': 18, x: v < 0 ? 66 : 67, y: cy(v) + 5.5, style: 'fill:#222' }, v);
    
    
  });
})();
</script>
</body>
</html>
